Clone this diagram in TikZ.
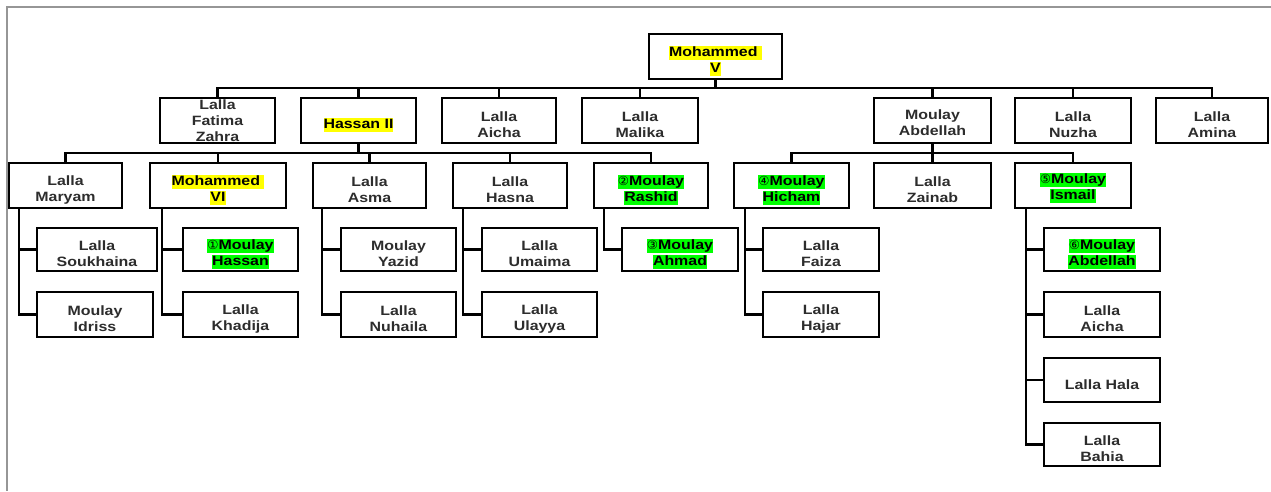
\documentclass[tikz,border=0pt]{standalone}
\usepackage{fontspec}
\setmainfont{Liberation Sans}[FakeStretch=1.18]
\newfontfamily\dvfont{DejaVu Sans}
\usetikzlibrary{calc}
\definecolor{hlyel}{RGB}{255,255,0}
\definecolor{hlgrn}{RGB}{0,255,0}
\definecolor{txtgray}{RGB}{45,45,45}
\definecolor{framegray}{RGB}{150,150,150}
\newcommand{\hy}[1]{{\setlength{\fboxsep}{0pt}\colorbox{hlyel}{\rule[-3.5pt]{0pt}{14pt}\textcolor{black}{#1}}}}
\newcommand{\hg}[1]{{\setlength{\fboxsep}{0pt}\colorbox{hlgrn}{\rule[-3.5pt]{0pt}{14pt}\textcolor{black}{#1}}}}
\newcommand{\cn}[1]{{\dvfont\mdseries\fontsize{12.5}{12}\selectfont #1}}
\tikzset{
  pbox/.style={draw=black, line width=2.4pt, fill=white, inner sep=0pt},
  lab/.style={inner sep=0pt, align=center, yshift=-4.5pt,
    font=\fontsize{13.5}{16}\selectfont\bfseries, text=txtgray},
  conn/.style={draw=black, line width=2.2pt},
  framel/.style={draw=framegray, line width=1.5pt}
}
\begin{document}
\begin{tikzpicture}[x=1pt,y=-1pt]
\useasboundingbox (0,0) rectangle (1271,491);
\draw[framel] (1271,7) -- (7,7) -- (7,491);

% row 0
\node[pbox, minimum width=132.6pt, minimum height=44.6pt, label={[lab]center:{\hy{Mohammed\ }\\\hy{V}}}] (mv) at (715.5,56.5) {};

% row 1
\begin{scope}[every node/.append style={minimum height=44.6pt}]
\node[pbox, minimum width=114.6pt, label={[lab,yshift=4pt]center:{Lalla\\Fatima\\Zahra}}] (fz) at (217.5,120.5) {};
\node[pbox, minimum width=114.6pt, label={[lab]center:{\hy{Hassan II}}}] (h2) at (358.5,120.5) {};
\node[pbox, minimum width=113.6pt, label={[lab]center:{Lalla\\Aicha}}] (ai) at (499,120.5) {};
\node[pbox, minimum width=115.6pt, label={[lab]center:{Lalla\\Malika}}] (ma) at (640,120.5) {};
\node[pbox, minimum width=116.6pt, label={[lab,yshift=2pt]center:{Moulay\\Abdellah}}] (ab) at (932.5,120.5) {};
\node[pbox, minimum width=115.6pt, label={[lab]center:{Lalla\\Nuzha}}] (nu) at (1073,120.5) {};
\node[pbox, minimum width=111.6pt, label={[lab]center:{Lalla\\Amina}}] (am) at (1212,120.5) {};
\end{scope}

% row 2
\begin{scope}[every node/.append style={minimum height=44.6pt}]
\node[pbox, minimum width=112.6pt, label={[lab]center:{Lalla\\Maryam}}] (mr) at (65.5,185.5) {};
\node[pbox, minimum width=135.6pt, label={[lab]center:{\hy{Mohammed\ }\\\hy{VI}}}] (m6) at (218,185.5) {};
\node[pbox, minimum width=112.6pt, label={[lab]center:{Lalla\\Asma}}] (as) at (369.5,185.5) {};
\node[pbox, minimum width=113.6pt, label={[lab]center:{Lalla\\Hasna}}] (hs) at (510,185.5) {};
\node[pbox, minimum width=113.6pt, label={[lab]center:{\hg{\cn{②}Moulay}\\\hg{Rashid}}}] (ra) at (651,185.5) {};
\node[pbox, minimum width=114.6pt, label={[lab]center:{\hg{\cn{④}Moulay}\\\hg{Hicham}}}] (hi) at (791.5,185.5) {};
\node[pbox, minimum width=116.6pt, label={[lab]center:{Lalla\\Zainab}}] (za) at (932.5,185.5) {};
\node[pbox, minimum width=115.6pt, label={[lab,yshift=2pt]center:{\hg{\cn{⑤}Moulay}\\\hg{Ismail}}}] (is) at (1073,185.5) {};
\end{scope}

% row 3a
\begin{scope}[every node/.append style={minimum height=42.6pt}]
\node[pbox, minimum width=119.6pt, label={[lab]center:{Lalla\\Soukhaina}}] (so) at (97,249.5) {};
\node[pbox, minimum width=114.6pt, label={[lab]center:{\hg{\cn{①}Moulay}\\\hg{Hassan}}}] (mh) at (240.5,249.5) {};
\node[pbox, minimum width=114.6pt, label={[lab]center:{Moulay\\Yazid}}] (ya) at (398.5,249.5) {};
\node[pbox, minimum width=114.6pt, label={[lab]center:{Lalla\\Umaima}}] (um) at (539.5,249.5) {};
\node[pbox, minimum width=115.6pt, label={[lab]center:{\hg{\cn{③}Moulay}\\\hg{Ahmad}}}] (ah) at (680,249.5) {};
\node[pbox, minimum width=115.6pt, label={[lab]center:{Lalla\\Faiza}}] (fa) at (821,249.5) {};
\node[pbox, minimum width=115.6pt, label={[lab]center:{\hg{\cn{⑥}Moulay}\\\hg{Abdellah}}}] (ia) at (1102,249.5) {};
\end{scope}

% row 3b
\begin{scope}[every node/.append style={minimum height=44.6pt}]
\node[pbox, minimum width=115.6pt, label={[lab]center:{Moulay\\Idriss}}] (id) at (95,314.5) {};
\node[pbox, minimum width=114.6pt, label={[lab]center:{Lalla\\Khadija}}] (kh) at (240.5,314.5) {};
\node[pbox, minimum width=114.6pt, label={[lab]center:{Lalla\\Nuhaila}}] (nh) at (398.5,314.5) {};
\node[pbox, minimum width=114.6pt, label={[lab]center:{Lalla\\Ulayya}}] (ul) at (539.5,314.5) {};
\node[pbox, minimum width=115.6pt, label={[lab]center:{Lalla\\Hajar}}] (hj) at (821,314.5) {};
\node[pbox, minimum width=115.6pt, label={[lab]center:{Lalla\\Aicha}}] (ic) at (1102,314.5) {};
\end{scope}

% Ismail further children
\node[pbox, minimum width=115.6pt, minimum height=43.6pt, label={[lab]center:{Lalla Hala}}] (hl) at (1102,380) {};
\node[pbox, minimum width=115.6pt, minimum height=42.6pt, label={[lab]center:{Lalla\\Bahia}}] (bh) at (1102,444.5) {};

% connectors: Mohammed V
\coordinate (b0) at (715.5,88);
\draw[conn] (mv.south) -- (b0);
\foreach \c in {fz,h2,ai,ma,ab,nu,am} \draw[conn] (b0) -| (\c.north);

% Hassan II
\coordinate (b1) at (358.5,153);
\draw[conn] (h2.south) -- (b1);
\foreach \c in {mr,m6,as,hs,ra} \draw[conn] (b1) -| (\c.north);

% Moulay Abdellah
\coordinate (b2) at (932.5,153);
\draw[conn] (ab.south) -- (b2);
\foreach \c in {hi,za,is} \draw[conn] (b2) -| (\c.north);

% side children
\draw[conn] ([xshift=11pt]mr.south west) |- (so.west);
\draw[conn] ([xshift=11pt]mr.south west) |- (id.west);
\draw[conn] ([xshift=13pt]m6.south west) |- (mh.west);
\draw[conn] ([xshift=13pt]m6.south west) |- (kh.west);
\draw[conn] ([xshift=10pt]as.south west) |- (ya.west);
\draw[conn] ([xshift=10pt]as.south west) |- (nh.west);
\draw[conn] ([xshift=11pt]hs.south west) |- (um.west);
\draw[conn] ([xshift=11pt]hs.south west) |- (ul.west);
\draw[conn] ([xshift=11pt]ra.south west) |- (ah.west);
\draw[conn] ([xshift=12pt]hi.south west) |- (fa.west);
\draw[conn] ([xshift=12pt]hi.south west) |- (hj.west);
\foreach \c in {ia,ic,hl,bh} \draw[conn] ([xshift=12pt]is.south west) |- (\c.west);
\end{tikzpicture}
\end{document}
